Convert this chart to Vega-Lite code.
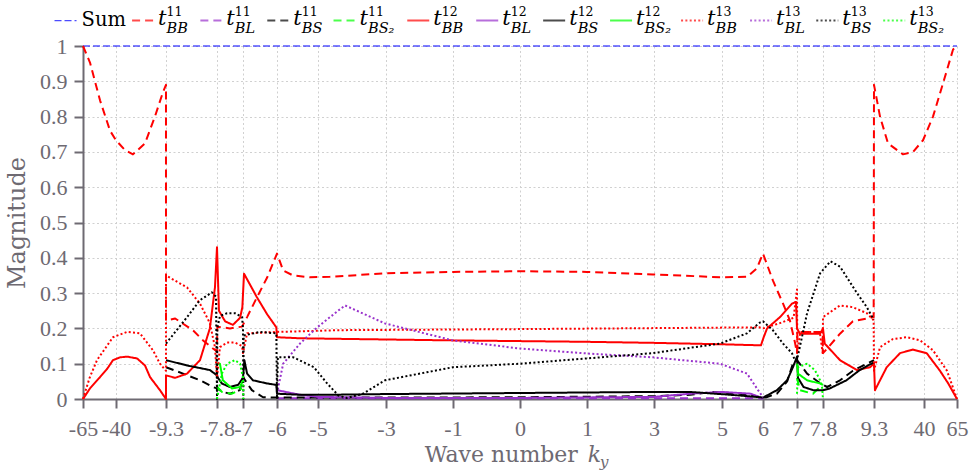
{
"$schema": "https://vega.github.io/schema/vega-lite/v6.json",
"autosize": {"type": "none"},
"padding": {"left": 83, "top": 46, "right": 13, "bottom": 75},
"width": 874,
"height": 353,
"background": "white",
"config": {
  "view": {"stroke": null},
  "axis": {"domainColor": "#6e6a72", "domainWidth": 2, "tickColor": "#6e6a72", "tickWidth": 2, "tickSize": 9,
    "labelFont": "Liberation Serif", "labelFontSize": 22, "labelColor": "#6e6a72",
    "gridColor": "#d0d0d0", "gridDash": [2, 2.5], "gridWidth": 1,
    "titleFont": "DejaVu Serif", "titleFontSize": 24, "titleColor": "#6e6a72", "titleFontWeight": "normal"}
},
"datasets": {
"curves": [
{"s":"Sum","k":-65,"v":1},{"s":"Sum","k":65,"v":1},
{"s":"t11BB","k":-65,"v":1.0},{"s":"t11BB","k":-59.7,"v":0.953},{"s":"t11BB","k":-52.1,"v":0.846},{"s":"t11BB","k":-44.5,"v":0.76},{"s":"t11BB","k":-40,"v":0.733},{"s":"t11BB","k":-34.5,"v":0.705},{"s":"t11BB","k":-29.6,"v":0.693},{"s":"t11BB","k":-22.2,"v":0.724},{"s":"t11BB","k":-16.1,"v":0.8},{"s":"t11BB","k":-11.1,"v":0.87},{"s":"t11BB","k":-9.31,"v":0.89},{"s":"t11BB","k":-9.3,"v":0.222},{"s":"t11BB","k":-9.03,"v":0.228},{"s":"t11BB","k":-8.5,"v":0.194},{"s":"t11BB","k":-8.21,"v":0.166},{"s":"t11BB","k":-7.92,"v":0.143},{"s":"t11BB","k":-7.8,"v":0.135},{"s":"t11BB","k":-7.79,"v":0.205},{"s":"t11BB","k":-7.4,"v":0.2},{"s":"t11BB","k":-7.03,"v":0.205},{"s":"t11BB","k":-6.88,"v":0.232},{"s":"t11BB","k":-6.59,"v":0.288},{"s":"t11BB","k":-6.29,"v":0.344},{"s":"t11BB","k":-6,"v":0.412},{"s":"t11BB","k":-5.85,"v":0.364},{"s":"t11BB","k":-5.61,"v":0.35},{"s":"t11BB","k":-5.2,"v":0.345},{"s":"t11BB","k":-4.65,"v":0.346},{"s":"t11BB","k":-3.03,"v":0.356},{"s":"t11BB","k":-1,"v":0.36},{"s":"t11BB","k":0,"v":0.362},{"s":"t11BB","k":1,"v":0.36},{"s":"t11BB","k":2.97,"v":0.353},{"s":"t11BB","k":4.94,"v":0.345},{"s":"t11BB","k":5.61,"v":0.346},{"s":"t11BB","k":5.85,"v":0.37},{"s":"t11BB","k":6,"v":0.412},{"s":"t11BB","k":6.29,"v":0.336},{"s":"t11BB","k":6.59,"v":0.27},{"s":"t11BB","k":6.79,"v":0.223},{"s":"t11BB","k":6.94,"v":0.16},{"s":"t11BB","k":7,"v":0.13},{"s":"t11BB","k":7.01,"v":0.19},{"s":"t11BB","k":7.4,"v":0.19},{"s":"t11BB","k":7.79,"v":0.19},{"s":"t11BB","k":7.8,"v":0.13},{"s":"t11BB","k":7.95,"v":0.146},{"s":"t11BB","k":8.3,"v":0.185},{"s":"t11BB","k":8.68,"v":0.22},{"s":"t11BB","k":9.29,"v":0.232},{"s":"t11BB","k":9.3,"v":0.89},{"s":"t11BB","k":13,"v":0.8},{"s":"t11BB","k":17.9,"v":0.724},{"s":"t11BB","k":27.1,"v":0.693},{"s":"t11BB","k":33.3,"v":0.7},{"s":"t11BB","k":39.4,"v":0.733},{"s":"t11BB","k":46.8,"v":0.8},{"s":"t11BB","k":54.4,"v":0.894},{"s":"t11BB","k":62,"v":0.99},{"s":"t11BB","k":65,"v":1.0},
{"s":"t11BL","k":-6,"v":0.002},{"s":"t11BL","k":0,"v":0.002},{"s":"t11BL","k":6,"v":0.002},
{"s":"t11BS","k":-9.3,"v":0.09},{"s":"t11BS","k":-8.8,"v":0.072},{"s":"t11BS","k":-8.3,"v":0.053},{"s":"t11BS","k":-7.92,"v":0.034},{"s":"t11BS","k":-7.8,"v":0.03},{"s":"t11BS","k":-7.62,"v":0.02},{"s":"t11BS","k":-7.4,"v":0.015},{"s":"t11BS","k":-7.1,"v":0.025},{"s":"t11BS","k":-7,"v":0.062},{"s":"t11BS","k":-6.74,"v":0.025},{"s":"t11BS","k":-6.41,"v":0.005},{"s":"t11BS","k":-6,"v":0.004},{"s":"t11BS","k":-3,"v":0.004},{"s":"t11BS","k":0,"v":0.005},{"s":"t11BS","k":3,"v":0.008},{"s":"t11BS","k":4.06,"v":0.012},{"s":"t11BS","k":4.74,"v":0.02},{"s":"t11BS","k":5.44,"v":0.015},{"s":"t11BS","k":6,"v":0.004},{"s":"t11BS","k":6.1,"v":0.005},{"s":"t11BS","k":6.41,"v":0.015},{"s":"t11BS","k":6.71,"v":0.05},{"s":"t11BS","k":6.88,"v":0.1},{"s":"t11BS","k":7,"v":0.11},{"s":"t11BS","k":7.31,"v":0.072},{"s":"t11BS","k":7.71,"v":0.045},{"s":"t11BS","k":7.8,"v":0.04},{"s":"t11BS","k":7.92,"v":0.034},{"s":"t11BS","k":8.3,"v":0.053},{"s":"t11BS","k":8.68,"v":0.08},{"s":"t11BS","k":9.09,"v":0.1},{"s":"t11BS","k":9.3,"v":0.11},
{"s":"t11BS2","k":-7.8,"v":0.035},{"s":"t11BS2","k":-7.65,"v":0.02},{"s":"t11BS2","k":-7.34,"v":0.015},{"s":"t11BS2","k":-7.03,"v":0.03},
{"s":"t11BS2","p":"b","k":7,"v":0.06},{"s":"t11BS2","p":"b","k":7.09,"v":0.025},{"s":"t11BS2","p":"b","k":7.49,"v":0.015},{"s":"t11BS2","p":"b","k":7.71,"v":0.034},
{"s":"t12BB","k":-65,"v":0},{"s":"t12BB","k":-59.7,"v":0.03},{"s":"t12BB","k":-52.1,"v":0.062},{"s":"t12BB","k":-46.8,"v":0.085},{"s":"t12BB","k":-42.3,"v":0.11},{"s":"t12BB","k":-37.5,"v":0.118},{"s":"t12BB","k":-33.2,"v":0.12},{"s":"t12BB","k":-27.1,"v":0.115},{"s":"t12BB","k":-22.2,"v":0.095},{"s":"t12BB","k":-19.1,"v":0.062},{"s":"t12BB","k":-13,"v":0.025},{"s":"t12BB","k":-9.32,"v":0},{"s":"t12BB","k":-9.3,"v":0.067},{"s":"t12BB","k":-9.03,"v":0.06},{"s":"t12BB","k":-8.68,"v":0.072},{"s":"t12BB","k":-8.3,"v":0.11},{"s":"t12BB","k":-8.01,"v":0.2},{"s":"t12BB","k":-7.86,"v":0.316},{"s":"t12BB","k":-7.8,"v":0.43},{"s":"t12BB","k":-7.74,"v":0.25},{"s":"t12BB","k":-7.55,"v":0.22},{"s":"t12BB","k":-7.31,"v":0.21},{"s":"t12BB","k":-7.09,"v":0.23},{"s":"t12BB","k":-7.02,"v":0.26},{"s":"t12BB","k":-6.97,"v":0.355},{"s":"t12BB","k":-6.59,"v":0.288},{"s":"t12BB","k":-6.29,"v":0.24},{"s":"t12BB","k":-6.02,"v":0.203},{"s":"t12BB","k":-6,"v":0.175},{"s":"t12BB","k":-5.44,"v":0.172},{"s":"t12BB","k":-4.06,"v":0.17},{"s":"t12BB","k":-1,"v":0.166},{"s":"t12BB","k":0,"v":0.164},{"s":"t12BB","k":1,"v":0.162},{"s":"t12BB","k":3,"v":0.159},{"s":"t12BB","k":5,"v":0.155},{"s":"t12BB","k":5.95,"v":0.152},{"s":"t12BB","k":6.02,"v":0.175},{"s":"t12BB","k":6.12,"v":0.2},{"s":"t12BB","k":6.5,"v":0.232},{"s":"t12BB","k":6.85,"v":0.27},{"s":"t12BB","k":6.97,"v":0.275},{"s":"t12BB","k":7,"v":0.2},{"s":"t12BB","k":7.09,"v":0.185},{"s":"t12BB","k":7.4,"v":0.185},{"s":"t12BB","k":7.71,"v":0.185},{"s":"t12BB","k":7.8,"v":0.2},{"s":"t12BB","k":7.85,"v":0.157},{"s":"t12BB","k":8.3,"v":0.11},{"s":"t12BB","k":8.8,"v":0.082},{"s":"t12BB","k":9.18,"v":0.09},{"s":"t12BB","k":9.3,"v":0.1},{"s":"t12BB","k":9.9,"v":0.025},{"s":"t12BB","k":17.1,"v":0.09},{"s":"t12BB","k":25.3,"v":0.13},{"s":"t12BB","k":33.2,"v":0.14},{"s":"t12BB","k":42,"v":0.13},{"s":"t12BB","k":52.1,"v":0.08},{"s":"t12BB","k":58.2,"v":0.045},{"s":"t12BB","k":65,"v":0},
{"s":"t12BL","k":-6,"v":0.025},{"s":"t12BL","k":-5.44,"v":0.012},{"s":"t12BL","k":-5,"v":0.006},{"s":"t12BL","k":-3,"v":0.003},{"s":"t12BL","k":0,"v":0.003},{"s":"t12BL","k":3,"v":0.006},{"s":"t12BL","k":4.06,"v":0.015},{"s":"t12BL","k":5,"v":0.02},{"s":"t12BL","k":5.7,"v":0.015},{"s":"t12BL","k":5.93,"v":0.005},{"s":"t12BL","k":6,"v":0},
{"s":"t12BS","k":-9.3,"v":0.11},{"s":"t12BS","k":-8.68,"v":0.095},{"s":"t12BS","k":-8.01,"v":0.082},{"s":"t12BS","k":-7.8,"v":0.067},{"s":"t12BS","k":-7.77,"v":0.06},{"s":"t12BS","k":-7.65,"v":0.044},{"s":"t12BS","k":-7.41,"v":0.034},{"s":"t12BS","k":-7.15,"v":0.04},{"s":"t12BS","k":-7,"v":0.06},{"s":"t12BS","k":-6.96,"v":0.11},{"s":"t12BS","k":-6.88,"v":0.072},{"s":"t12BS","k":-6.71,"v":0.053},{"s":"t12BS","k":-6.29,"v":0.044},{"s":"t12BS","k":-6.02,"v":0.04},{"s":"t12BS","k":-6,"v":0.015},{"s":"t12BS","k":-5.44,"v":0.012},{"s":"t12BS","k":-4.65,"v":0.012},{"s":"t12BS","k":-3,"v":0.014},{"s":"t12BS","k":0,"v":0.017},{"s":"t12BS","k":3,"v":0.02},{"s":"t12BS","k":4.06,"v":0.02},{"s":"t12BS","k":5.2,"v":0.012},{"s":"t12BS","k":5.93,"v":0.005},{"s":"t12BS","k":6,"v":0.004},{"s":"t12BS","k":6.41,"v":0.025},{"s":"t12BS","k":6.71,"v":0.053},{"s":"t12BS","k":6.88,"v":0.09},{"s":"t12BS","k":7,"v":0.12},{"s":"t12BS","k":7.03,"v":0.06},{"s":"t12BS","k":7.2,"v":0.034},{"s":"t12BS","k":7.5,"v":0.025},{"s":"t12BS","k":7.8,"v":0.025},{"s":"t12BS","k":8,"v":0.03},{"s":"t12BS","k":8.49,"v":0.053},{"s":"t12BS","k":8.88,"v":0.082},{"s":"t12BS","k":9.3,"v":0.104},
{"s":"t12BS2","k":-7.8,"v":0.1},{"s":"t12BS2","k":-7.71,"v":0.1},{"s":"t12BS2","k":-7.62,"v":0.053},{"s":"t12BS2","k":-7.34,"v":0.03},{"s":"t12BS2","k":-7.09,"v":0.034},{"s":"t12BS2","k":-7,"v":0.053},
{"s":"t12BS2","p":"b","k":7,"v":0.1},{"s":"t12BS2","p":"b","k":7.03,"v":0.072},{"s":"t12BS2","p":"b","k":7.31,"v":0.053},{"s":"t12BS2","p":"b","k":7.71,"v":0.044},{"s":"t12BS2","p":"b","k":7.8,"v":0.04},
{"s":"t13BB","k":-65,"v":0},{"s":"t13BB","k":-60,"v":0.06},{"s":"t13BB","k":-54.4,"v":0.11},{"s":"t13BB","k":-42.3,"v":0.175},{"s":"t13BB","k":-33.2,"v":0.19},{"s":"t13BB","k":-25.3,"v":0.186},{"s":"t13BB","k":-17.3,"v":0.138},{"s":"t13BB","k":-13,"v":0.1},{"s":"t13BB","k":-9.32,"v":0.08},{"s":"t13BB","k":-9.3,"v":0.35},{"s":"t13BB","k":-8.68,"v":0.316},{"s":"t13BB","k":-8.3,"v":0.27},{"s":"t13BB","k":-8.01,"v":0.215},{"s":"t13BB","k":-7.86,"v":0.147},{"s":"t13BB","k":-7.8,"v":0.06},{"s":"t13BB","k":-7.71,"v":0.147},{"s":"t13BB","k":-7.49,"v":0.16},{"s":"t13BB","k":-7.25,"v":0.16},{"s":"t13BB","k":-7.03,"v":0.15},{"s":"t13BB","k":-7,"v":0.13},{"s":"t13BB","k":-6.88,"v":0.186},{"s":"t13BB","k":-6,"v":0.19},{"s":"t13BB","k":-4.35,"v":0.195},{"s":"t13BB","k":0,"v":0.198},{"s":"t13BB","k":5.9,"v":0.203},{"s":"t13BB","k":6,"v":0.2},{"s":"t13BB","k":6.5,"v":0.215},{"s":"t13BB","k":6.9,"v":0.23},{"s":"t13BB","k":7,"v":0.31},{"s":"t13BB","k":7.01,"v":0.13},{"s":"t13BB","k":7.1,"v":0.19},{"s":"t13BB","k":7.7,"v":0.19},{"s":"t13BB","k":7.79,"v":0.13},{"s":"t13BB","k":7.8,"v":0.232},{"s":"t13BB","k":8.3,"v":0.265},{"s":"t13BB","k":8.68,"v":0.26},{"s":"t13BB","k":9.09,"v":0.243},{"s":"t13BB","k":9.29,"v":0.223},{"s":"t13BB","k":9.3,"v":0.08},{"s":"t13BB","k":13,"v":0.147},{"s":"t13BB","k":21,"v":0.17},{"s":"t13BB","k":29.6,"v":0.175},{"s":"t13BB","k":37.6,"v":0.166},{"s":"t13BB","k":46.8,"v":0.138},{"s":"t13BB","k":57.4,"v":0.08},{"s":"t13BB","k":65,"v":0},
{"s":"t13BL","k":-6,"v":0.015},{"s":"t13BL","k":-5.85,"v":0.1},{"s":"t13BL","k":-5.44,"v":0.157},{"s":"t13BL","k":-5.02,"v":0.203},{"s":"t13BL","k":-4.41,"v":0.25},{"s":"t13BL","k":-4.2,"v":0.265},{"s":"t13BL","k":-3.03,"v":0.214},{"s":"t13BL","k":-1,"v":0.166},{"s":"t13BL","k":0,"v":0.143},{"s":"t13BL","k":1,"v":0.129},{"s":"t13BL","k":2.97,"v":0.118},{"s":"t13BL","k":4.94,"v":0.1},{"s":"t13BL","k":5.61,"v":0.072},{"s":"t13BL","k":5.88,"v":0.025},{"s":"t13BL","k":6,"v":0.005},
{"s":"t13BS","k":-9.3,"v":0.157},{"s":"t13BS","k":-8.68,"v":0.232},{"s":"t13BS","k":-8.3,"v":0.28},{"s":"t13BS","k":-7.95,"v":0.302},{"s":"t13BS","k":-7.83,"v":0.29},{"s":"t13BS","k":-7.8,"v":0},{"s":"t13BS","k":-7.79,"v":0.2},{"s":"t13BS","k":-7.71,"v":0.235},{"s":"t13BS","k":-7.49,"v":0.243},{"s":"t13BS","k":-7.25,"v":0.243},{"s":"t13BS","k":-7.03,"v":0.232},{"s":"t13BS","k":-7,"v":0.2},{"s":"t13BS","k":-6.99,"v":0},{"s":"t13BS","k":-6.98,"v":0.18},{"s":"t13BS","k":-6.5,"v":0.19},{"s":"t13BS","k":-6.02,"v":0.186},{"s":"t13BS","k":-6,"v":0},{"s":"t13BS","k":-5.98,"v":0.118},{"s":"t13BS","k":-5.6,"v":0.118},{"s":"t13BS","k":-5.1,"v":0.09},{"s":"t13BS","k":-4.73,"v":0.044},{"s":"t13BS","k":-4.4,"v":0.01},{"s":"t13BS","k":-4.15,"v":0.003},{"s":"t13BS","k":-3.68,"v":0.015},{"s":"t13BS","k":-3.03,"v":0.053},{"s":"t13BS","k":-1,"v":0.09},{"s":"t13BS","k":0,"v":0.1},{"s":"t13BS","k":1,"v":0.115},{"s":"t13BS","k":2.97,"v":0.13},{"s":"t13BS","k":4.94,"v":0.157},{"s":"t13BS","k":5.61,"v":0.186},{"s":"t13BS","k":5.93,"v":0.217},{"s":"t13BS","k":6,"v":0.22},{"s":"t13BS","k":6.29,"v":0.195},{"s":"t13BS","k":6.59,"v":0.157},{"s":"t13BS","k":6.85,"v":0.13},{"s":"t13BS","k":6.94,"v":0.11},{"s":"t13BS","k":7,"v":0.11},{"s":"t13BS","k":7.31,"v":0.243},{"s":"t13BS","k":7.71,"v":0.356},{"s":"t13BS","k":8.02,"v":0.39},{"s":"t13BS","k":8.3,"v":0.375},{"s":"t13BS","k":8.8,"v":0.3},{"s":"t13BS","k":9.09,"v":0.26},{"s":"t13BS","k":9.29,"v":0.225},
{"s":"t13BS2","k":-7.8,"v":0},{"s":"t13BS2","k":-7.77,"v":0.015},{"s":"t13BS2","k":-7.65,"v":0.072},{"s":"t13BS2","k":-7.49,"v":0.1},{"s":"t13BS2","k":-7.25,"v":0.11},{"s":"t13BS2","k":-7.09,"v":0.1},{"s":"t13BS2","k":-7,"v":0.06},{"s":"t13BS2","k":-6.99,"v":0},
{"s":"t13BS2","p":"b","k":7,"v":0.015},{"s":"t13BS2","p":"b","k":7.03,"v":0.09},{"s":"t13BS2","p":"b","k":7.31,"v":0.1},{"s":"t13BS2","p":"b","k":7.55,"v":0.082},{"s":"t13BS2","p":"b","k":7.71,"v":0.053},{"s":"t13BS2","p":"b","k":7.77,"v":0.034},{"s":"t13BS2","p":"b","k":7.8,"v":0}
],
"leg": [
{"s":"Sum","slot":-0.136,"v":1.072,"sup":"","sub":""},
{"s":"t11BB","slot":1,"v":1.072,"sup":"11","sub":"BB"},
{"s":"t11BL","slot":2,"v":1.072,"sup":"11","sub":"BL"},
{"s":"t11BS","slot":2.98,"v":1.072,"sup":"11","sub":"BS"},
{"s":"t11BS2","slot":3.95,"v":1.072,"sup":"11","sub":"BS₂"},
{"s":"t12BB","slot":5.03,"v":1.072,"sup":"12","sub":"BB"},
{"s":"t12BL","slot":6.04,"v":1.072,"sup":"12","sub":"BL"},
{"s":"t12BS","slot":7.02,"v":1.072,"sup":"12","sub":"BS"},
{"s":"t12BS2","slot":8,"v":1.072,"sup":"12","sub":"BS₂"},
{"s":"t13BB","slot":9.04,"v":1.072,"sup":"13","sub":"BB"},
{"s":"t13BL","slot":10.05,"v":1.072,"sup":"13","sub":"BL"},
{"s":"t13BS","slot":11.02,"v":1.072,"sup":"13","sub":"BS"},
{"s":"t13BS2","slot":12,"v":1.072,"sup":"13","sub":"BS₂"}
],
"ttl": [{"slot": 7.514, "v": -0.179}]
},
"encoding": {
  "y": {"field": "v", "type": "quantitative", "scale": {"domain": [0, 1], "nice": false, "zero": false},
    "axis": {"values": [0,0.1,0.2,0.3,0.4,0.5,0.6,0.7,0.8,0.9,1], "labelExpr": "datum.value + ''", "title": "Magnitude", "grid": true,
      "labelOverlap": false, "labelBound": false, "labelFlush": false, "labelPadding": 7, "titlePadding": 10}}
},
"resolve": {"scale": {"x": "independent"}},
"layer": [
{
  "data": {"name": "curves"},
  "mark": {"type": "line", "strokeCap": "butt", "strokeJoin": "round"},
  "encoding": {
    "x": {"field": "k", "type": "quantitative",
      "scale": {"type": "linear", "domain": [-65,-40,-9.3,-7.8,-7,-6,-5,-3,-1,0,1,3,5,6,7,7.8,9.3,40,65],
        "range": [0,33,83,134,160,194,235,303,370,437,504,571,639,680,714,740,791,841,874], "nice": false, "zero": false},
      "axis": {"values": [-65,-40,-9.3,-7.8,-7,-6,-5,-3,-1,0,1,3,5,6,7,7.8,9.3,40,65], "labelExpr": "datum.value + ''",
        "title": null, "grid": true, "labelOverlap": false, "labelFlush": false, "labelBound": false, "labelPadding": 10,
        "encode": {"labels": {"update": {"fill": {"signal": "(datum.value == -9.3 || datum.value == 9.3) ? '#000000' : (abs(datum.value) == 7 || abs(datum.value) == 7.8) ? '#00e600' : abs(datum.value) == 6 ? '#800080' : '#6e6a72'"}}}}}},
    "color": {"field": "s", "type": "nominal", "legend": null,
      "scale": {"domain": ["Sum","t11BB","t11BL","t11BS","t11BS2","t12BB","t12BL","t12BS","t12BS2","t13BB","t13BL","t13BS","t13BS2"],
        "range": ["#0000ff","#ff0000","#9932cc","#000000","#00ff00","#ff0000","#9932cc","#000000","#00ff00","#ff0000","#9932cc","#000000","#00ff00"]}},
    "strokeDash": {"field": "s", "type": "nominal", "legend": null,
      "scale": {"domain": ["Sum","t11BB","t11BL","t11BS","t11BS2","t12BB","t12BL","t12BS","t12BS2","t13BB","t13BL","t13BS","t13BS2"],
        "range": [[7,3],[8,5],[8,5],[8,5],[8,5],[1,0],[1,0],[1,0],[1,0],[2,2.3],[2,2.3],[2,2.3],[2,2.3]]}},
    "strokeWidth": {"condition": {"test": "datum.s == 'Sum'", "value": 1.2}, "value": 2},
    "detail": {"field": "p", "type": "nominal"}
  }
},
{
  "encoding": {
    "x": {"field": "slot", "type": "quantitative", "scale": {"domain": [0.12, 12.92], "nice": false, "zero": false}, "axis": null}
  },
  "layer": [
    {"data": {"name": "leg"},
     "mark": {"type": "point", "shape": "stroke", "filled": false, "size": 484, "strokeCap": "butt"},
     "encoding": {
       "color": {"field": "s", "type": "nominal", "legend": null},
       "strokeDash": {"field": "s", "type": "nominal", "legend": null},
       "strokeWidth": {"condition": {"test": "datum.s == 'Sum'", "value": 1.2}, "value": 2}}},
    {"data": {"name": "leg"}, "transform": [{"filter": "datum.s == 'Sum'"}],
     "mark": {"type": "text", "text": "Sum", "align": "left", "baseline": "alphabetic", "dx": 16, "dy": 5, "font": "DejaVu Serif", "fontSize": 19.5, "color": "#000000"}},
    {"data": {"name": "leg"}, "transform": [{"filter": "datum.s != 'Sum'"}],
     "mark": {"type": "text", "text": "t", "align": "left", "baseline": "alphabetic", "dx": 15, "dy": 4.5, "font": "DejaVu Serif", "fontStyle": "italic", "fontSize": 21, "color": "#000000"}},
    {"data": {"name": "leg"}, "transform": [{"filter": "datum.s != 'Sum'"}],
     "mark": {"type": "text", "align": "left", "baseline": "alphabetic", "dx": 23.5, "dy": -4.5, "font": "DejaVu Serif", "fontSize": 12.5, "color": "#000000"},
     "encoding": {"text": {"field": "sup"}}},
    {"data": {"name": "leg"}, "transform": [{"filter": "datum.s != 'Sum'"}],
     "mark": {"type": "text", "align": "left", "baseline": "alphabetic", "dx": 23.5, "dy": 12, "font": "DejaVu Serif", "fontStyle": "italic", "fontSize": 14.5, "color": "#000000"},
     "encoding": {"text": {"field": "sub"}}},
    {"data": {"name": "ttl"},
     "mark": {"type": "text", "text": "Wave number", "align": "right", "baseline": "alphabetic", "dx": -10, "font": "DejaVu Serif", "fontSize": 22, "color": "#6e6a72"}},
    {"data": {"name": "ttl"},
     "mark": {"type": "text", "text": "k", "align": "left", "baseline": "alphabetic", "dx": 0, "font": "DejaVu Serif", "fontStyle": "italic", "fontSize": 22, "color": "#6e6a72"}},
    {"data": {"name": "ttl"},
     "mark": {"type": "text", "text": "y", "align": "left", "baseline": "alphabetic", "dx": 12, "dy": 5, "font": "DejaVu Serif", "fontStyle": "italic", "fontSize": 15.5, "color": "#6e6a72"}}
  ]
}
]
}
